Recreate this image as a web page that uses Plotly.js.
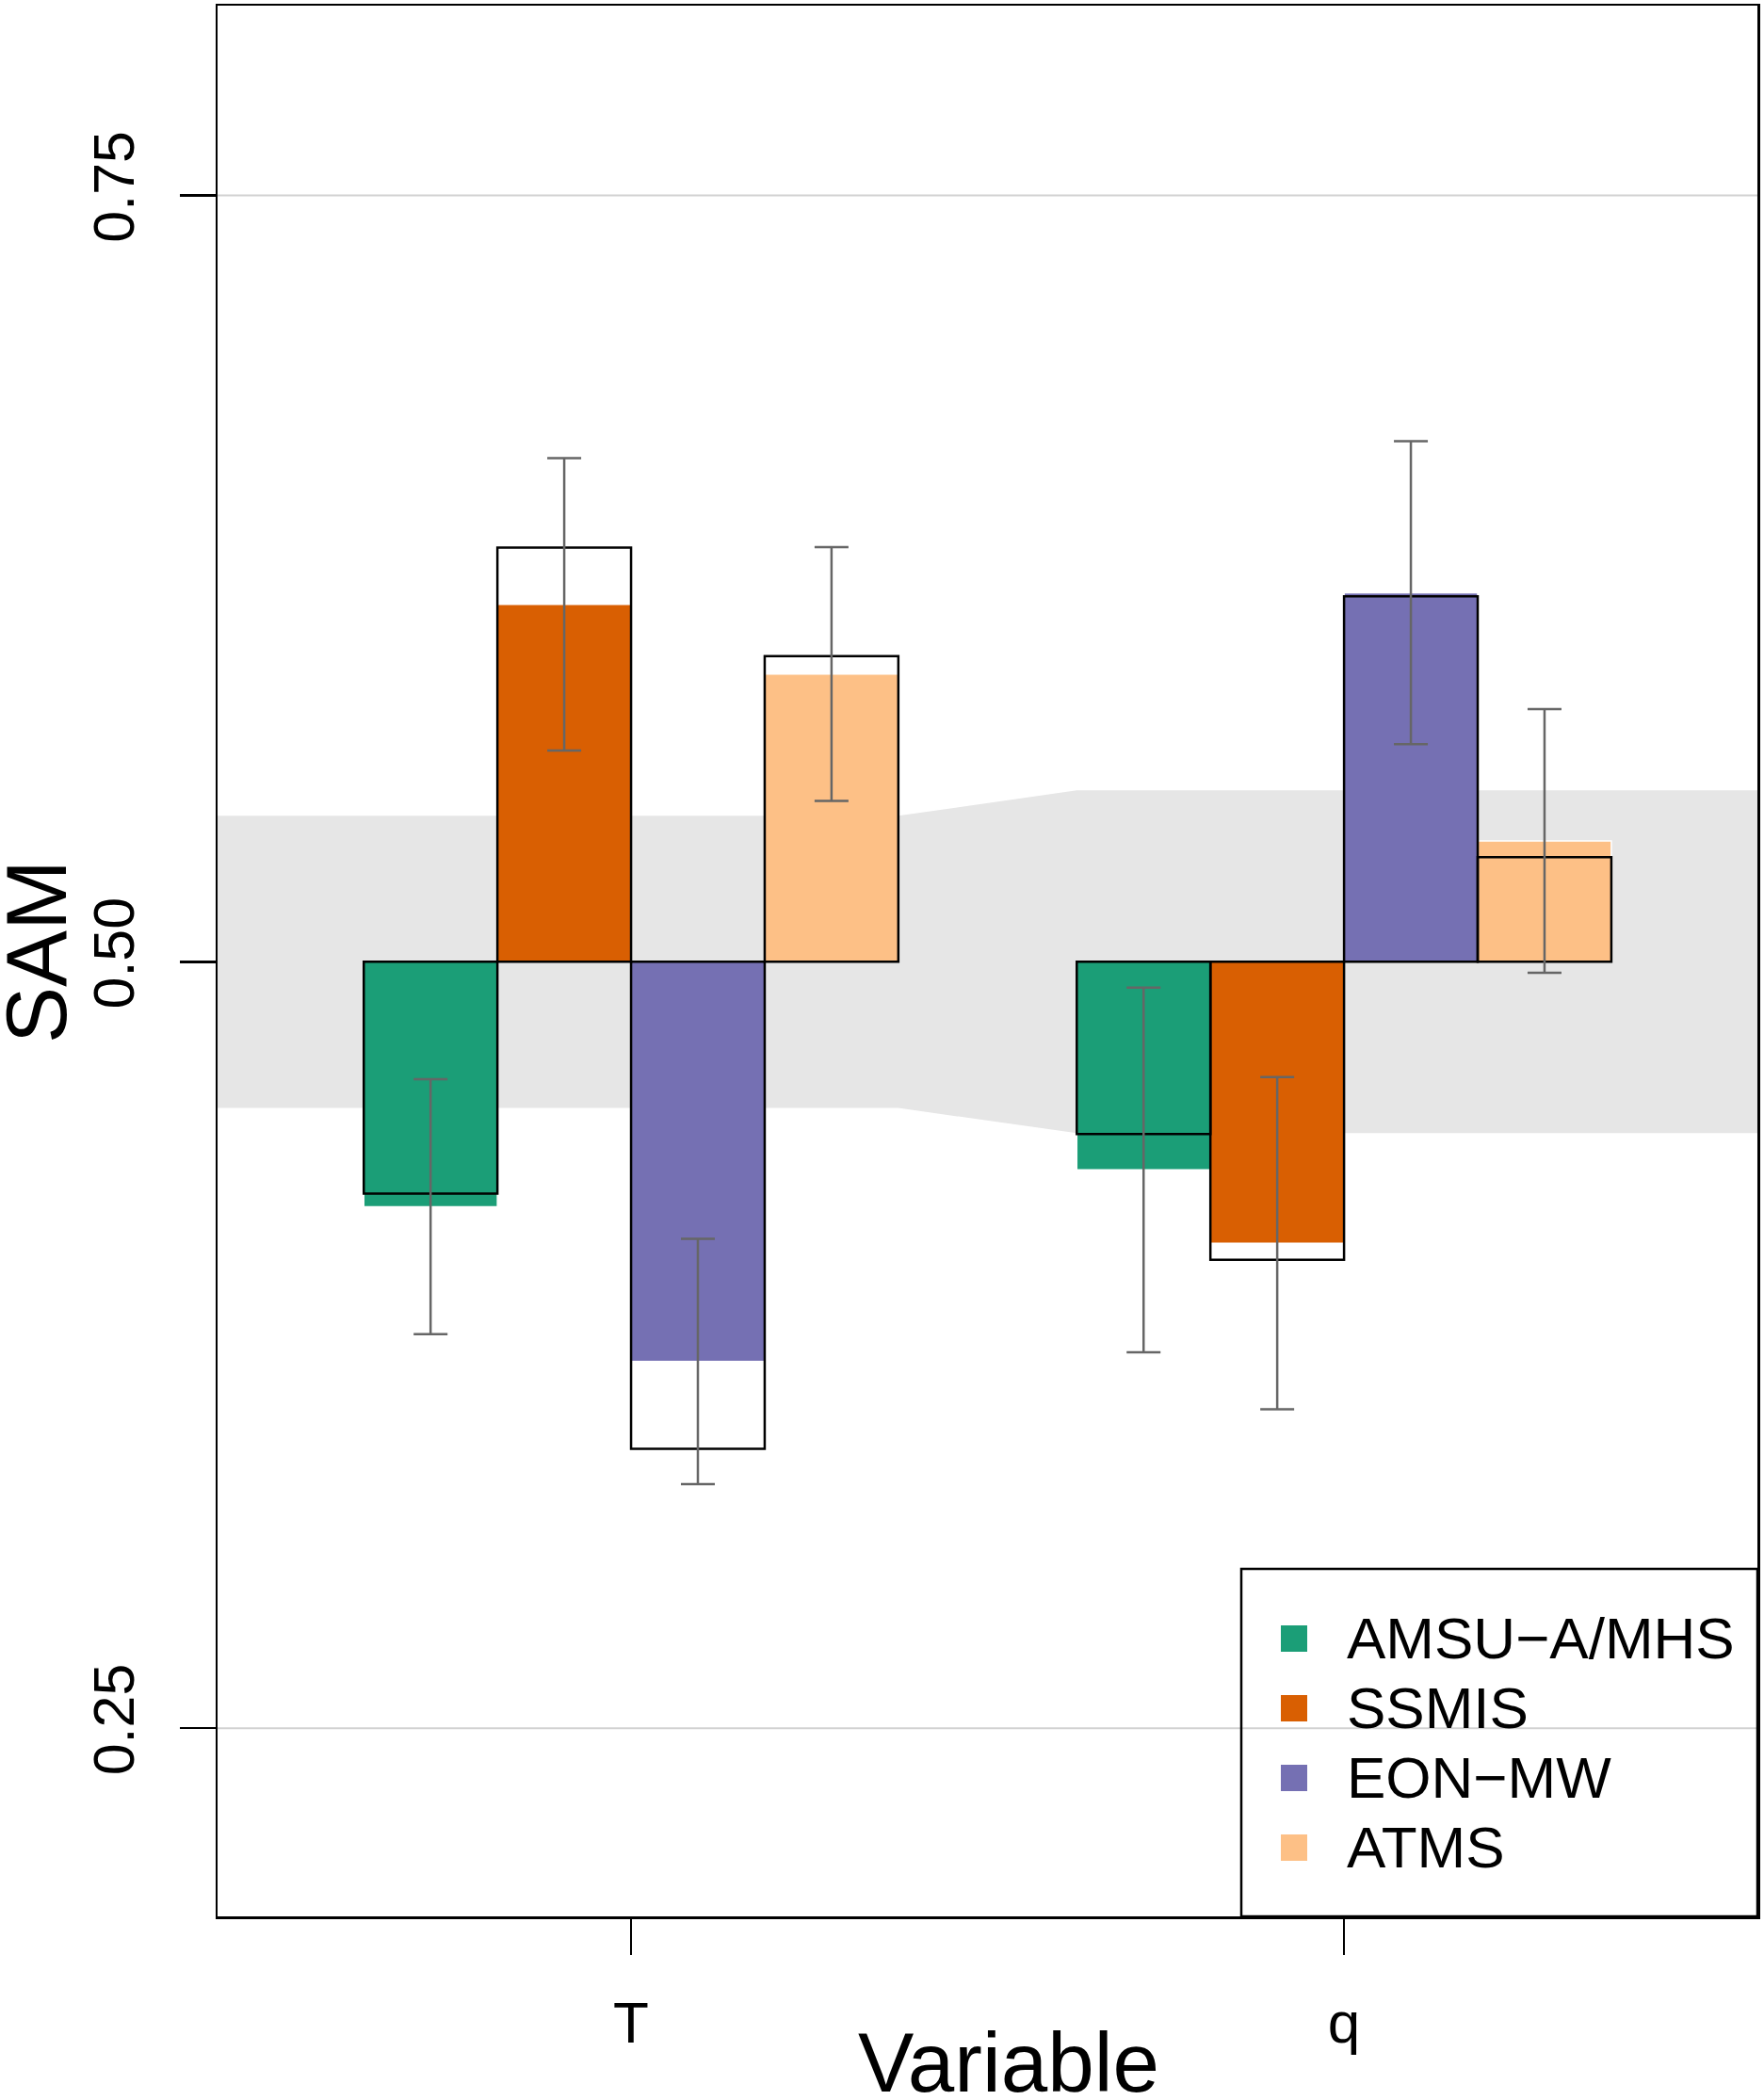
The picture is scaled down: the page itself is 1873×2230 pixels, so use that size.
<!DOCTYPE html>
<html>
<head>
<meta charset="utf-8">
<script src="https://cdn.plot.ly/plotly-3.0.1.min.js"></script>
<style>
  body { margin: 0; background: #fff; }
  #graph { width: 1873px; height: 2230px; }
</style>
</head>
<body>
<div id="graph"></div>
<script>
// groups on the x axis and the four instruments
var variables = ["T", "q"];
var instruments = ["AMSU\u2212A/MHS", "SSMIS", "EON\u2212MW", "ATMS"];
var colors = ["#1b9e77", "#d95f02", "#7570b3", "#fdc086"];

// SAM per instrument, one value per variable (T, q)
var samAMSU = [0.4201, 0.4321];
var samSSMIS = [0.6166, 0.4082];
var samEON = [0.3696, 0.6204];
var samATMS = [0.5939, 0.5394];

// outlined (unfilled) bars
var refAMSU = [0.4244, 0.4438];
var refSSMIS = [0.6351, 0.4028];
var refEON = [0.3411, 0.6192];
var refATMS = [0.5997, 0.5341];

// error bar half widths
var errAMSU = [0.0416, 0.0595];
var errSSMIS = [0.0477, 0.0542];
var errEON = [0.0400, 0.0494];
var errATMS = [0.0414, 0.0430];

// grey band around 0.5, per variable
var bandLow = [0.4523, 0.4441];
var bandHigh = [0.5476, 0.5559];

var yTicks = [0.25, 0.50, 0.75];
var yTickText = ["0.25", "0.50", "0.75"];

var sam = [samAMSU, samSSMIS, samEON, samATMS];
var ref = [refAMSU, refSSMIS, refEON, refATMS];
var err = [errAMSU, errSSMIS, errEON, errATMS];

// layout in bar widths
var groupCenter = [0, 5.335];
var xRange = [-3.094, 8.428];
var yRange = [0.1886, 0.8119];
var FONT = "Liberation Sans, Arial, Helvetica, sans-serif";

// plot frame in pixels
var W = 1873, H = 2230;
var L = 231, R = 1866, TOP = 6, B = 2035;
function px(xp) { return (xp - L) / (R - L); }
function py(yp) { return (B - yp) / (B - TOP); }

function barX(i) {
  return groupCenter.map(function (c) { return c + i - 1.5; });
}

var data = [];

// filled bars
sam.forEach(function (vals, i) {
  data.push({
    type: "bar",
    x: barX(i),
    y: vals.map(function (v) { return v - 0.5; }),
    base: 0.5,
    width: 1,
    name: instruments[i],
    marker: { color: colors[i], line: { color: "#ffffff", width: 1.5 } },
    showlegend: false,
    hoverinfo: "skip"
  });
});

// outlined bars
ref.forEach(function (vals, i) {
  data.push({
    type: "bar",
    x: barX(i),
    y: vals.map(function (v) { return v - 0.5; }),
    base: 0.5,
    width: 1,
    name: instruments[i] + " ref",
    marker: { color: "rgba(0,0,0,0)", line: { color: "#000000", width: 2.5 } },
    showlegend: false,
    hoverinfo: "skip"
  });
});

// error bars
sam.forEach(function (vals, i) {
  data.push({
    type: "scatter",
    mode: "markers",
    x: barX(i),
    y: vals,
    marker: { size: 1, opacity: 0 },
    error_y: { type: "data", array: err[i], visible: true, color: "#666666", thickness: 2.5, width: 18 },
    showlegend: false,
    hoverinfo: "skip"
  });
});

// band polygon between the two groups
var xTEnd = groupCenter[0] + 2;
var xQStart = groupCenter[1] - 2;
var bandPath = "M" + xRange[0] + "," + bandHigh[0] +
  " L" + xTEnd + "," + bandHigh[0] +
  " L" + xQStart + "," + bandHigh[1] +
  " L" + xRange[1] + "," + bandHigh[1] +
  " L" + xRange[1] + "," + bandLow[1] +
  " L" + xQStart + "," + bandLow[1] +
  " L" + xTEnd + "," + bandLow[0] +
  " L" + xRange[0] + "," + bandLow[0] + " Z";

var shapes = [
  { type: "path", path: bandPath, xref: "x", yref: "y", layer: "below",
    fillcolor: "#e6e6e6", line: { width: 0 } },
  { type: "line", xref: "paper", yref: "y", x0: 0, x1: 1, y0: 0.75, y1: 0.75,
    layer: "below", line: { color: "#d2d2d2", width: 2 } },
  { type: "line", xref: "paper", yref: "y", x0: 0, x1: 1, y0: 0.25, y1: 0.25,
    layer: "below", line: { color: "#d2d2d2", width: 2 } },
  { type: "line", xref: "paper", yref: "y", x0: 0, x1: 1, y0: 0.5, y1: 0.5,
    layer: "below", line: { color: "#000000", width: 1.8, dash: "5px,5px" } },
  // legend box
  { type: "rect", xref: "paper", yref: "paper", x0: px(1318), x1: 1, y0: 0, y1: py(1666),
    layer: "above", line: { color: "#000000", width: 2.5 }, fillcolor: "rgba(0,0,0,0)" }
];

var annotations = [
  { xref: "paper", yref: "paper", x: px(39), y: py(1011), textangle: -90,
    xanchor: "center", yanchor: "middle", showarrow: false,
    text: "SAM", font: { family: FONT, size: 90, color: "#000000" } },
  { xref: "paper", yref: "paper", x: px(1071), y: py(2190),
    xanchor: "center", yanchor: "middle", showarrow: false,
    text: "Variable", font: { family: FONT, size: 89, color: "#000000" } }
];
var legendY = [1740, 1814, 1888, 1962];
instruments.forEach(function (name, i) {
  shapes.push({
    type: "rect", xref: "paper", yref: "paper",
    x0: px(1360), x1: px(1388), y0: py(legendY[i] + 14), y1: py(legendY[i] - 14),
    layer: "above", fillcolor: colors[i], line: { width: 0 }
  });
  annotations.push({
    xref: "paper", yref: "paper", x: px(1428), y: py(legendY[i] - 1),
    xanchor: "left", yanchor: "middle", showarrow: false,
    text: name, font: { family: FONT, size: 62, color: "#000000" }
  });
});

var layout = {
  width: W,
  height: H,
  margin: { l: L, r: W - R, t: TOP, b: H - B, pad: 0 },
  paper_bgcolor: "#ffffff",
  plot_bgcolor: "#ffffff",
  barmode: "overlay",
  font: { family: FONT, color: "#000000" },
  showlegend: false,
  xaxis: {
    range: xRange,
    tickvals: groupCenter,
    ticktext: variables,
    ticks: "outside",
    ticklen: 38,
    tickwidth: 2.5,
    tickcolor: "#000000",
    tickfont: { family: FONT, size: 62 },
    ticklabelstandoff: 19,
    showgrid: false,
    zeroline: false,
    showline: true,
    mirror: true,
    linecolor: "#000000",
    linewidth: 2.5
  },
  yaxis: {
    range: yRange,
    tickvals: yTicks,
    ticktext: yTickText,
    tickangle: -90,
    ticks: "outside",
    ticklen: 38,
    tickwidth: 2.5,
    tickcolor: "#000000",
    tickfont: { family: FONT, size: 61 },
    ticklabelstandoff: 24,
    showgrid: false,
    zeroline: false,
    showline: true,
    mirror: true,
    linecolor: "#000000",
    linewidth: 2.5
  },
  shapes: shapes,
  annotations: annotations
};

Plotly.newPlot("graph", data, layout, { staticPlot: true });
</script>
</body>
</html>
